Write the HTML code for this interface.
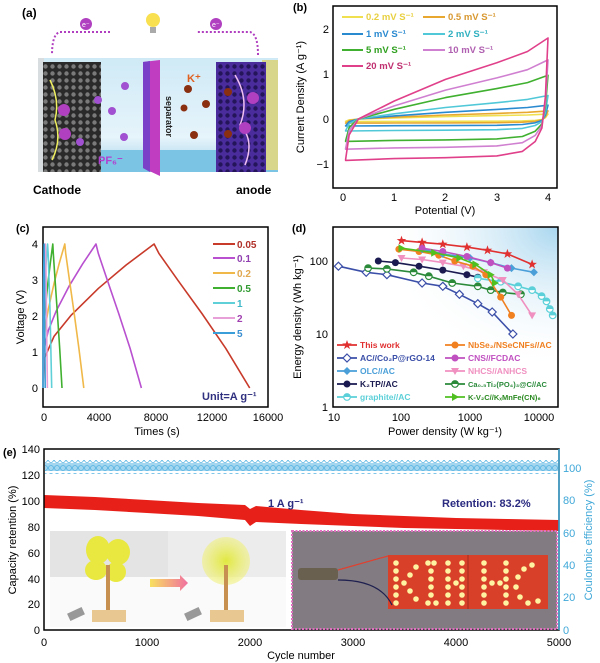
<!DOCTYPE html>
<html><head><meta charset="utf-8"><style>
html,body{margin:0;padding:0;background:#fff;}
svg{display:block;font-family:"Liberation Sans",Arial,sans-serif;}
</style></head><body>
<svg width="600" height="663" viewBox="0 0 600 663" xmlns="http://www.w3.org/2000/svg">
<defs>
<linearGradient id="bgA" x1="0" y1="0" x2="0" y2="1"><stop offset="0" stop-color="#cfeaf6"/><stop offset="0.7" stop-color="#e6f4fb"/><stop offset="1" stop-color="#9fd0ea"/></linearGradient>
<radialGradient id="bgD" cx="1" cy="0" r="0.8"><stop offset="0" stop-color="#a8d6ef"/><stop offset="1" stop-color="#ffffff" stop-opacity="0"/></radialGradient>
<linearGradient id="arr" x1="0" x2="1"><stop offset="0" stop-color="#f8e060"/><stop offset="1" stop-color="#f070a0"/></linearGradient>
<radialGradient id="fan2"><stop offset="0" stop-color="#e0e840"/><stop offset="1" stop-color="#f0f070" stop-opacity="0.5"/></radialGradient>
<pattern id="holesC" width="7" height="7" patternUnits="userSpaceOnUse"><rect width="7" height="7" fill="#2a2a2a"/><circle cx="3.5" cy="3.5" r="2.2" fill="#7a7a7a"/></pattern>
<pattern id="holesA" width="7" height="7" patternUnits="userSpaceOnUse"><rect width="7" height="7" fill="#4a2c9c"/><circle cx="3.5" cy="3.5" r="2.2" fill="#24145a"/></pattern>
<pattern id="ce" width="6" height="8" patternUnits="userSpaceOnUse"><circle cx="3" cy="4" r="2.5" fill="none" stroke="#50b0e0" stroke-width="0.8"/></pattern>
<marker id="mStar" markerUnits="userSpaceOnUse" markerWidth="12" markerHeight="12" refX="6" refY="6" overflow="visible"><polygon points="6,1 7.2,4.4 10.8,4.5 7.9,6.7 9,10.1 6,8 3,10.1 4.1,6.7 1.2,4.5 4.8,4.4" fill="#e03030"/></marker>
<marker id="mDiaO" markerUnits="userSpaceOnUse" markerWidth="10" markerHeight="10" refX="5" refY="5" overflow="visible"><polygon points="5,1 9,5 5,9 1,5" fill="#fff" stroke="#3b4fa8" stroke-width="1.2"/></marker>
<marker id="mDia" markerUnits="userSpaceOnUse" markerWidth="10" markerHeight="10" refX="5" refY="5" overflow="visible"><polygon points="5,1 9,5 5,9 1,5" fill="#4a9fd8"/></marker>
<marker id="mK2" markerUnits="userSpaceOnUse" markerWidth="10" markerHeight="10" refX="5" refY="5" overflow="visible"><circle cx="5" cy="5" r="3.5" fill="#1a1a50"/></marker>
<marker id="mNb" markerUnits="userSpaceOnUse" markerWidth="10" markerHeight="10" refX="5" refY="5" overflow="visible"><circle cx="5" cy="5" r="3.5" fill="#f08020"/></marker>
<marker id="mCNS" markerUnits="userSpaceOnUse" markerWidth="10" markerHeight="10" refX="5" refY="5" overflow="visible"><circle cx="5" cy="5" r="3.5" fill="#c050c0"/></marker>
<marker id="mGr" markerUnits="userSpaceOnUse" markerWidth="10" markerHeight="10" refX="5" refY="5" overflow="visible"><circle cx="5" cy="5" r="3.3" fill="#fff" stroke="#5cd0d8" stroke-width="1.2"/><path d="M1.7 5A3.3 3.3 0 0 1 8.3 5Z" fill="#5cd0d8"/></marker>
<marker id="mCa" markerUnits="userSpaceOnUse" markerWidth="10" markerHeight="10" refX="5" refY="5" overflow="visible"><circle cx="5" cy="5" r="3.3" fill="#fff" stroke="#2a8a3a" stroke-width="1.2"/><path d="M1.7 5A3.3 3.3 0 0 1 8.3 5Z" fill="#2a8a3a"/></marker>
<marker id="mNH" markerUnits="userSpaceOnUse" markerWidth="10" markerHeight="10" refX="5" refY="5" overflow="visible"><polygon points="1,2 9,2 5,9" fill="#f090c0"/></marker>
<marker id="mKV" markerUnits="userSpaceOnUse" markerWidth="10" markerHeight="10" refX="5" refY="5" overflow="visible"><polygon points="2,1 9,5 2,9" fill="#50c020"/></marker>
</defs>

<!-- Panel a -->
<text x="22" y="17" font-size="12" font-weight="bold">(a)</text>
<rect x="38" y="58" width="240" height="114" fill="url(#bgA)"/>
<rect x="38" y="150" width="240" height="22" fill="#7cc4e4"/>
<rect x="38" y="58" width="6" height="114" fill="#d8dde0"/>
<rect x="43" y="62" width="58" height="110" fill="url(#holesC)"/>
<path d="M50 80 Q60 100 55 120 Q62 140 52 160" stroke="#f0f060" stroke-width="1.5" fill="none"/>
<rect x="262" y="60" width="16" height="110" fill="#d8d68a"/>
<rect x="216" y="62" width="50" height="110" fill="url(#holesA)"/>
<path d="M235 75 Q250 100 240 125 Q255 140 245 165" stroke="#f0c0f0" stroke-width="1.5" fill="none"/>
<polygon points="143,62 160,60 160,176 143,168" fill="#c03cc0"/>
<polygon points="143,62 150,61 150,172 143,168" fill="#7a40c8"/>
<text transform="translate(166,96) rotate(90)" font-size="9" font-weight="bold" fill="#222">separator</text>
<path d="M110 32 L60 32 Q52 34 52 55" stroke="#b040c0" stroke-width="2" stroke-dasharray="2,2" fill="none"/>
<path d="M258 55 Q258 34 250 32 L196 32" stroke="#b040c0" stroke-width="2" stroke-dasharray="2,2" fill="none"/>
<circle cx="86" cy="24" r="6" fill="#b040c0"/><text x="82" y="27" font-size="7" fill="#fff">e⁻</text>
<circle cx="216" cy="24" r="6" fill="#b040c0"/><text x="212" y="27" font-size="7" fill="#fff">e⁻</text>
<circle cx="153" cy="20" r="7" fill="#f8e050"/><rect x="150" y="27" width="6" height="6" fill="#aaa"/>
<g fill="#a050d0"><circle cx="125" cy="86" r="4"/><circle cx="112" cy="111" r="4"/><circle cx="124" cy="137" r="4"/><circle cx="98" cy="100" r="4"/><circle cx="80" cy="142" r="4"/></g>
<g fill="#8a3010"><circle cx="188" cy="89" r="4"/><circle cx="184" cy="108" r="3.5"/><circle cx="206" cy="104" r="4"/><circle cx="194" cy="135" r="4"/><circle cx="228" cy="92" r="4"/><circle cx="228" cy="134" r="4"/></g>
<text x="187" y="82" font-size="11" font-weight="bold" fill="#e06020">K⁺</text>
<text x="98" y="164" font-size="11" font-weight="bold" fill="#b040d0">PF₆⁻</text>
<circle cx="64" cy="110" r="6" fill="#b040c0"/><circle cx="65" cy="134" r="6" fill="#b040c0"/>
<circle cx="253" cy="98" r="6" fill="#b040c0"/><circle cx="245" cy="128" r="6" fill="#b040c0"/>
<text x="33" y="194" font-size="12" font-weight="bold">Cathode</text>
<text x="236" y="194" font-size="12" font-weight="bold">anode</text>

<!-- Panel b -->
<text x="293" y="11" font-size="11" font-weight="bold">(b)</text>
<rect x="333" y="6" width="224" height="182" fill="none" stroke="#000" stroke-width="1.5"/>
<g fill="none" stroke-width="1.6" stroke-linejoin="round">
<path stroke="#f0e050" d="M345.6 121.4L349.2 119.9L358.4 119L394.3 117.9L445.5 116.6L496.8 115.6L527.5 115L548 114.1L545.4 117.7L541.9 119.5L535.2 120.4L522.4 120.9L496.8 121.2L445.5 121.3L394.3 121.4L345.6 121.5Z"/>
<path stroke="#e8a830" d="M345.6 123.1L349.2 120.6L358.4 119L394.3 117.2L445.5 115L496.8 113.4L527.5 112.3L548 110.9L545.4 116.8L541.9 119.9L535.2 121.3L522.4 122.2L496.8 122.7L445.5 122.9L394.3 123L345.6 123.1Z"/>
<path stroke="#2a8ad0" d="M345.6 125.9L349.2 121.7L358.4 119L394.3 115.9L445.5 112.3L496.8 109.4L527.5 107.5L548 105.2L545.4 115.2L541.9 120.5L535.2 122.8L522.4 124.5L496.8 125.3L445.5 125.6L394.3 125.7L345.6 126Z"/>
<path stroke="#50c8d8" d="M345.6 130.7L349.2 123.6L358.4 119L394.3 113.8L445.5 107.5L496.8 102.7L527.5 99.4L548 95.5L545.4 112.5L541.9 121.6L535.2 125.5L522.4 128.4L496.8 129.7L445.5 130.2L394.3 130.5L345.6 131Z"/>
<path stroke="#40b030" d="M345.6 140.9L349.2 127.5L358.4 119L394.3 109.3L445.5 97.6L496.8 88.6L527.5 82.6L548 75.3L545.4 106.9L541.9 123.9L535.2 131.2L522.4 136.5L496.8 138.9L445.5 139.9L394.3 140.4L345.6 141.4Z"/>
<path stroke="#d080d0" d="M345.6 148.6L349.2 130.5L358.4 119L394.3 105.9L445.5 90.1L496.8 77.9L527.5 69.7L548 59.9L545.4 102.6L541.9 125.6L535.2 135.4L522.4 142.7L496.8 145.9L445.5 147.3L394.3 147.9L345.6 149.2Z"/>
<path stroke="#e0408a" d="M345.6 159.5L349.2 134.8L358.4 119L394.3 101L445.5 79.4L496.8 62.8L527.5 51.5L548 38L545.4 96.5L541.9 128L535.2 141.5L522.4 151.4L496.8 155.9L445.5 157.7L394.3 158.6L345.6 160.4Z"/>
</g>
<g font-size="11" text-anchor="end">
<text x="329" y="33">2</text><text x="329" y="78">1</text><text x="329" y="123">0</text><text x="329" y="168">−1</text></g>
<g font-size="11" text-anchor="middle">
<text x="343" y="201">0</text><text x="394" y="201">1</text><text x="445" y="201">2</text><text x="497" y="201">3</text><text x="548" y="201">4</text></g>
<text x="445" y="214" font-size="11" text-anchor="middle">Potential (V)</text>
<text transform="translate(304,97) rotate(-90)" font-size="11" text-anchor="middle">Current Density (A g⁻¹)</text>
<g font-size="9.5" font-weight="bold">
<line x1="342" y1="17" x2="363" y2="17" stroke="#f0e050" stroke-width="2"/><text x="366" y="20" fill="#e8d040">0.2 mV S⁻¹</text>
<line x1="423" y1="17" x2="445" y2="17" stroke="#e8a830" stroke-width="2"/><text x="448" y="20" fill="#d89830">0.5 mV S⁻¹</text>
<line x1="342" y1="34" x2="363" y2="34" stroke="#2a8ad0" stroke-width="2"/><text x="366" y="37" fill="#2a8ad0">1 mV S⁻¹</text>
<line x1="423" y1="34" x2="445" y2="34" stroke="#50c8d8" stroke-width="2"/><text x="448" y="37" fill="#30b0c0">2 mV S⁻¹</text>
<line x1="342" y1="50" x2="363" y2="50" stroke="#40b030" stroke-width="2"/><text x="366" y="53" fill="#30a020">5 mV S⁻¹</text>
<line x1="423" y1="50" x2="445" y2="50" stroke="#d080d0" stroke-width="2"/><text x="448" y="53" fill="#b060b0">10 mV S⁻¹</text>
<line x1="342" y1="66" x2="363" y2="66" stroke="#e0408a" stroke-width="2"/><text x="366" y="69" fill="#c03070">20 mV S⁻¹</text>
</g>

<!-- Panel c -->
<text x="16" y="232" font-size="11" font-weight="bold">(c)</text>
<rect x="43" y="227" width="225" height="180" fill="none" stroke="#000" stroke-width="1.5"/>
<g fill="none" stroke-width="1.6" stroke-linejoin="round">
<path stroke="#c83a2a" d="M43 388L44 359.2L54.1 336.2L70.8 315.6L98.5 288.3L126.3 264.9L154.1 244L158.9 253.4L178 280.4L201.9 313.5L225.8 348.4L249.7 388"/>
<path stroke="#b850cf" d="M43 388L43.5 352L48.3 330.4L56.2 311L69.5 285.4L82.7 263.8L96 244L98.3 253.4L107.4 280.4L118.7 313.5L130.1 348.4L141.4 388"/>
<path stroke="#f0b848" d="M43 388L43.3 348.4L45.2 327.5L48.4 308.8L53.9 284L59.3 263.1L64.8 244L65.7 253.4L69.5 280.4L74.2 313.5L78.9 348.4L83.8 388"/>
<path stroke="#40b030" d="M43 388L43.2 344.8L44 324.6L45.5 306.6L47.9 282.9L50.4 262.4L52.8 244L53.3 253.4L55.1 280.4L57.4 313.5L59.7 348.4L62 388"/>
<path stroke="#60d0d8" d="M43 388L43.2 341L44.2 305L45.6 270L47.6 244L48.2 254L50 310L51.7 388"/>
<path stroke="#e8a0d8" d="M43 388L43.1 341L44.2 280L45.4 244L46 270L47.4 388"/>
<path stroke="#3a9fd8" d="M43 388L43.1 341L43.6 280L44.1 244L44.5 280L45.2 388"/>
</g>
<g font-size="11" text-anchor="end">
<text x="38" y="248">4</text><text x="38" y="284">3</text><text x="38" y="320">2</text><text x="38" y="356">1</text><text x="38" y="392">0</text></g>
<g font-size="11" text-anchor="middle">
<text x="44" y="421">0</text><text x="99" y="421">4000</text><text x="156" y="421">8000</text><text x="212" y="421">12000</text><text x="268" y="421">16000</text></g>
<text x="157" y="435" font-size="11" text-anchor="middle">Times (s)</text>
<text transform="translate(24,317) rotate(-90)" font-size="11" text-anchor="middle">Voltage (V)</text>
<g font-size="10" font-weight="bold">
<line x1="213" y1="244" x2="235" y2="244" stroke="#c83a2a" stroke-width="2"/><text x="237" y="248" fill="#b03028">0.05</text>
<line x1="213" y1="258" x2="235" y2="258" stroke="#b850cf" stroke-width="2"/><text x="237" y="262" fill="#9040b0">0.1</text>
<line x1="213" y1="273" x2="235" y2="273" stroke="#f0b848" stroke-width="2"/><text x="237" y="277" fill="#e0a850">0.2</text>
<line x1="213" y1="288" x2="235" y2="288" stroke="#40b030" stroke-width="2"/><text x="237" y="292" fill="#309a30">0.5</text>
<line x1="213" y1="303" x2="235" y2="303" stroke="#60d0d8" stroke-width="2"/><text x="237" y="307" fill="#40b8c8">1</text>
<line x1="213" y1="318" x2="235" y2="318" stroke="#e8a0d8" stroke-width="2"/><text x="237" y="322" fill="#a040b0">2</text>
<line x1="213" y1="333" x2="235" y2="333" stroke="#3a9fd8" stroke-width="2"/><text x="237" y="337" fill="#3a8fd0">5</text>
<text x="202" y="400" font-size="11" fill="#303080">Unit=A g⁻¹</text>
</g>

<!-- Panel d -->
<text x="292" y="232" font-size="11" font-weight="bold">(d)</text>
<rect x="333" y="227" width="225" height="180" fill="url(#bgD)"/>
<rect x="333" y="227" width="225" height="180" fill="none" stroke="#000" stroke-width="1.5"/>
<g fill="none" stroke-width="1.6" stroke-linejoin="round">
<polyline stroke="#3b4fa8" marker-start="url(#mDiaO)" marker-mid="url(#mDiaO)" marker-end="url(#mDiaO)" points="338.4,266.2 366.2,272.3 386.9,274.7 422.1,283 442.8,286.3 459.4,294.3 477.8,303.7 492.2,312 512.9,334"/>
<polyline stroke="#2a8a3a" marker-start="url(#mCa)" marker-mid="url(#mCa)" marker-end="url(#mCa)" points="368.1,268.1 386.9,268.9 413.6,272.3 428.8,276.2 452.2,283 477.8,286.3 490.7,290.1 502.8,292.5 520.9,294.3"/>
<polyline stroke="#1a1a50" marker-start="url(#mK2)" marker-mid="url(#mK2)" marker-end="url(#mK2)" points="378.3,261 395.4,262.6 419,266.2 442.8,270.1 466.9,274.7 477.8,277.2"/>
<polyline stroke="#5cd0d8" marker-start="url(#mGr)" marker-mid="url(#mGr)" marker-end="url(#mGr)" points="477.8,278.3 500.7,281.7 518.1,286.3 532.1,290.1 541.6,296.1 546.5,301.4 549.8,309 552.7,315.4"/>
<polyline stroke="#f090c0" marker-start="url(#mNH)" marker-mid="url(#mNH)" marker-end="url(#mNH)" points="401.5,258 422.1,259.5 442.8,262.6 463.4,266.2 484,272.3 502.8,280 518.1,294.3 532.1,315.4"/>
<polyline stroke="#f08020" marker-start="url(#mNb)" marker-mid="url(#mNb)" marker-end="url(#mNb)" points="398.9,249.2 419,251.5 438.8,255.2 454.8,261 472.8,266.2 485.8,274.7 500.7,297.1 511.5,315.4"/>
<polyline stroke="#4a9fd8" marker-start="url(#mDia)" marker-mid="url(#mDia)" marker-end="url(#mDia)" points="422.1,249.2 442.8,253.9 470,258 490.7,262.6 511.5,268.1 533.9,272.3"/>
<polyline stroke="#c050c0" marker-start="url(#mCNS)" marker-mid="url(#mCNS)" marker-end="url(#mCNS)" points="422.1,248.2 442.8,251.5 466.9,256.5 490.7,262.6 507.4,268.1"/>
<polyline stroke="#50c020" marker-start="url(#mKV)" marker-mid="url(#mKV)" marker-end="url(#mKV)" points="401.5,248.2 434.2,252.7 459.4,258 475.4,264.4 490.7,274.7 494.9,283"/>
<polyline stroke="#e03030" marker-start="url(#mStar)" marker-mid="url(#mStar)" marker-end="url(#mStar)" points="401.5,240.6 422.1,242.4 442.8,244.2 466.9,247.1 487.5,250.3 507.4,253.9 532.1,264.4"/>
</g>
<g font-size="11" text-anchor="end">
<text x="328" y="265">100</text><text x="328" y="338">10</text><text x="328" y="411">1</text></g>
<g font-size="11" text-anchor="middle">
<text x="334" y="421">10</text><text x="401" y="421">100</text><text x="470" y="421">1000</text><text x="539" y="421">10000</text></g>
<text x="445" y="435" font-size="11" text-anchor="middle">Power density (W kg⁻¹)</text>
<text transform="translate(301,317) rotate(-90)" font-size="11" text-anchor="middle">Energy density (Wh kg⁻¹)</text>
<g font-size="8.5" font-weight="bold" stroke-width="1.8" fill="none">
<polyline points="337,345 347,345 357,345" stroke="#e03030" marker-mid="url(#mStar)"/>
<polyline points="337,358 347,358 357,358" stroke="#3b4fa8" marker-mid="url(#mDiaO)"/>
<polyline points="337,371 347,371 357,371" stroke="#4a9fd8" marker-mid="url(#mDia)"/>
<polyline points="337,384 347,384 357,384" stroke="#1a1a50" marker-mid="url(#mK2)"/>
<polyline points="337,397 347,397 357,397" stroke="#5cd0d8" marker-mid="url(#mGr)"/>
<polyline points="445,345 455,345 465,345" stroke="#f08020" marker-mid="url(#mNb)"/>
<polyline points="445,358 455,358 465,358" stroke="#c050c0" marker-mid="url(#mCNS)"/>
<polyline points="445,371 455,371 465,371" stroke="#f090c0" marker-mid="url(#mNH)"/>
<polyline points="445,384 455,384 465,384" stroke="#2a8a3a" marker-mid="url(#mCa)"/>
<polyline points="445,397 455,397 465,397" stroke="#50c020" marker-mid="url(#mKV)"/>
</g>
<g font-size="8.5" font-weight="bold">
<text x="360" y="348" fill="#e03030">This work</text>
<text x="360" y="361" fill="#3b4fa8">AC//Co₂P@rGO-14</text>
<text x="360" y="374" fill="#4a9fd8">OLC//AC</text>
<text x="360" y="387" fill="#1a1a50">K₂TP//AC</text>
<text x="360" y="400" fill="#5cd0d8">graphite//AC</text>
<text x="468" y="348" fill="#f08020">NbSe₂/NSeCNFs//AC</text>
<text x="468" y="361" fill="#c050c0">CNS//FCDAC</text>
<text x="468" y="374" fill="#f090c0">NHCS//ANHCS</text>
<text x="468" y="387" fill="#2a8a3a" font-size="7.5">Ca₀.₅Ti₂(PO₄)₃@C//AC</text>
<text x="468" y="400" fill="#2a8a20" font-size="7.5">K-V₂C//KₓMnFe(CN)₆</text>
</g>

<!-- Panel e -->
<text x="3" y="456" font-size="11" font-weight="bold">(e)</text>
<rect x="45" y="460" width="513" height="14" fill="url(#ce)"/>
<rect x="45" y="463" width="513" height="8" fill="#5ab4e2" opacity="0.55"/>
<polygon fill="#e8201a" points="44,495 95,497 147,500 198,503 245,505 250,509 256,506 301,510 353,514 404,516 456,518 507,519 559,520 559,531 507,530 456,529 404,528 353,526 301,524 256,522 250,526 245,520 198,516 147,513 95,510 44,508"/>
<rect x="44" y="449" width="515" height="181" fill="none" stroke="#000" stroke-width="1.5"/>
<line x1="559" y1="449" x2="559" y2="630" stroke="#40a8d8" stroke-width="1.5"/>
<!-- fan photos -->
<rect x="50" y="531" width="118" height="46" fill="#e4e4e4"/>
<rect x="168" y="531" width="118" height="46" fill="#ececec"/>
<rect x="50" y="577" width="236" height="50" fill="#fafafa"/>
<g fill="#e8e840"><ellipse cx="98" cy="550" rx="12" ry="14"/><ellipse cx="118" cy="552" rx="12" ry="13"/><ellipse cx="96" cy="570" rx="11" ry="10"/><ellipse cx="116" cy="572" rx="10" ry="10"/></g>
<circle cx="226" cy="561" r="24" fill="url(#fan2)"/>
<rect x="106" y="565" width="4" height="48" fill="#c89050"/><rect x="224" y="565" width="4" height="48" fill="#c89050"/>
<rect x="92" y="610" width="34" height="12" fill="#e8c890"/><rect x="210" y="610" width="34" height="12" fill="#e8c890"/>
<rect x="68" y="610" width="16" height="8" fill="#999" transform="rotate(-25 76 614)"/><rect x="185" y="610" width="16" height="8" fill="#999" transform="rotate(-25 193 614)"/>
<polygon points="150,579 180,579 180,575 188,583 180,591 180,587 150,587" fill="url(#arr)"/>
<!-- LED photo -->
<rect x="292" y="531" width="265" height="98" fill="#827c82" stroke="#e070c0" stroke-width="2" stroke-dasharray="2,1.5"/>
<rect x="388" y="555" width="160" height="54" fill="#d8402a"/>
<line x1="468" y1="555" x2="468" y2="609" stroke="#a03020"/>
<rect x="298" y="568" width="40" height="12" fill="#6a6050" rx="3"/>
<path d="M338 570 L388 556" stroke="#e04030" stroke-width="1.2"/>
<path d="M338 580 Q380 580 392 605" stroke="#202050" stroke-width="1.2" fill="none"/>
<g fill="#fff2a0">
<circle cx="396" cy="563" r="2.8"/><circle cx="396" cy="571" r="2.8"/><circle cx="396" cy="579" r="2.8"/><circle cx="396" cy="587" r="2.8"/><circle cx="396" cy="595" r="2.8"/><circle cx="396" cy="603" r="2.8"/>
<circle cx="404" cy="583" r="2.8"/><circle cx="410" cy="575" r="2.8"/><circle cx="416" cy="567" r="2.8"/><circle cx="410" cy="591" r="2.8"/><circle cx="416" cy="599" r="2.8"/>
<circle cx="428" cy="563" r="2.8"/><circle cx="434" cy="563" r="2.8"/><circle cx="431" cy="571" r="2.8"/><circle cx="431" cy="579" r="2.8"/><circle cx="431" cy="587" r="2.8"/><circle cx="431" cy="595" r="2.8"/><circle cx="428" cy="603" r="2.8"/><circle cx="436" cy="603" r="2.8"/>
<circle cx="448" cy="563" r="2.8"/><circle cx="448" cy="571" r="2.8"/><circle cx="448" cy="579" r="2.8"/><circle cx="448" cy="587" r="2.8"/><circle cx="448" cy="595" r="2.8"/><circle cx="448" cy="603" r="2.8"/>
<circle cx="456" cy="583" r="2.8"/><circle cx="462" cy="563" r="2.8"/><circle cx="462" cy="571" r="2.8"/><circle cx="462" cy="579" r="2.8"/><circle cx="462" cy="587" r="2.8"/><circle cx="462" cy="595" r="2.8"/><circle cx="462" cy="603" r="2.8"/>
<circle cx="484" cy="563" r="2.8"/><circle cx="484" cy="571" r="2.8"/><circle cx="484" cy="579" r="2.8"/><circle cx="484" cy="587" r="2.8"/><circle cx="484" cy="595" r="2.8"/><circle cx="484" cy="603" r="2.8"/>
<circle cx="492" cy="583" r="2.8"/><circle cx="500" cy="583" r="2.8"/>
<circle cx="506" cy="563" r="2.8"/><circle cx="506" cy="571" r="2.8"/><circle cx="506" cy="579" r="2.8"/><circle cx="506" cy="587" r="2.8"/><circle cx="506" cy="595" r="2.8"/><circle cx="506" cy="603" r="2.8"/>
<circle cx="532" cy="565" r="2.8"/><circle cx="524" cy="569" r="2.8"/><circle cx="518" cy="577" r="2.8"/><circle cx="516" cy="587" r="2.8"/><circle cx="520" cy="597" r="2.8"/><circle cx="528" cy="603" r="2.8"/><circle cx="538" cy="601" r="2.8"/>
</g>
<g font-size="11" text-anchor="end">
<text x="40" y="453">140</text><text x="40" y="479">120</text><text x="40" y="505">100</text><text x="40" y="531">80</text><text x="40" y="557">60</text><text x="40" y="583">40</text><text x="40" y="608">20</text><text x="40" y="634">0</text></g>
<g font-size="11" fill="#40a8d8">
<text x="563" y="472">100</text><text x="563" y="504">80</text><text x="563" y="537">60</text><text x="563" y="569">40</text><text x="563" y="601">20</text><text x="563" y="634">0</text></g>
<g font-size="11" text-anchor="middle">
<text x="44" y="646">0</text><text x="147" y="646">1000</text><text x="250" y="646">2000</text><text x="353" y="646">3000</text><text x="456" y="646">4000</text><text x="559" y="646">5000</text></g>
<text x="301" y="659" font-size="11" text-anchor="middle">Cycle number</text>
<text transform="translate(16,540) rotate(-90)" font-size="11" text-anchor="middle">Capacity retention (%)</text>
<text transform="translate(592,540) rotate(-90)" font-size="11" text-anchor="middle" fill="#40a8d8">Coulombic efficiency (%)</text>
<text x="268" y="507" font-size="11" font-weight="bold" fill="#2a2a80">1 A g⁻¹</text>
<text x="442" y="507" font-size="11" font-weight="bold" fill="#2a2a80">Retention: 83.2%</text>
</svg>
</body></html>
